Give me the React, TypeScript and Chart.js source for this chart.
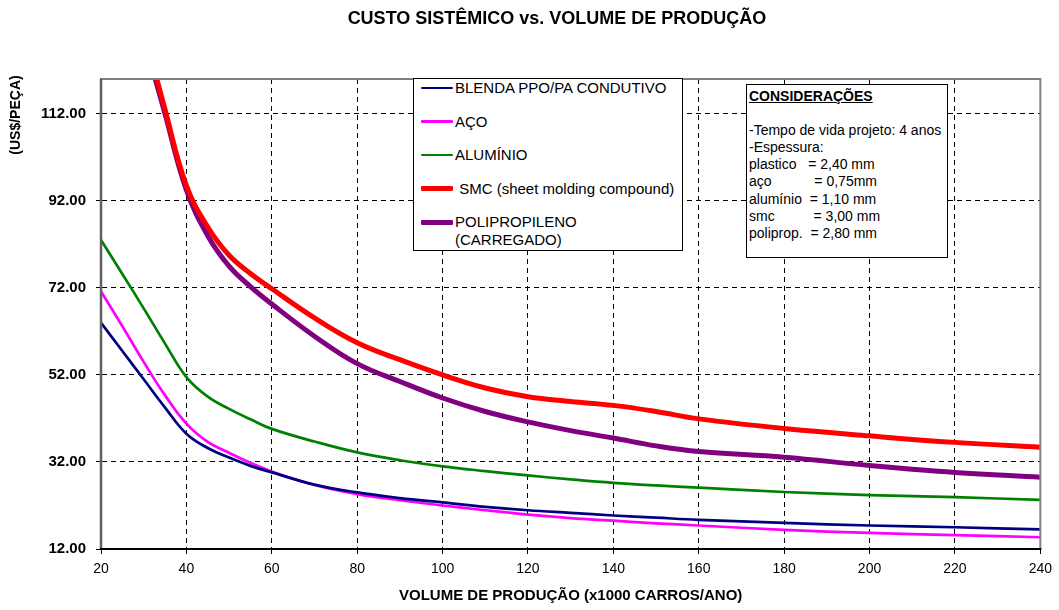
import React, { useEffect, useRef } from "react";
import { Chart, registerables } from "chart.js";

Chart.register(...registerables);

// ---- data ----
const volumes = [20, 25, 30, 35, 40, 45, 50, 55, 60, 70, 80, 90, 100, 110, 120, 130, 140, 150, 160, 180, 200, 220, 240];
const blenda = [64.0, 57.5, 51.0, 44.5, 38.5, 35.2, 33.0, 31.1, 29.6, 26.8, 25.0, 23.7, 22.7, 21.7, 20.9, 20.3, 19.7, 19.2, 18.7, 18.0, 17.4, 17.0, 16.5];
const aco = [71.2, 63.2, 55.0, 47.3, 40.8, 36.6, 34.1, 31.8, 29.8, 26.7, 24.6, 23.2, 22.0, 20.9, 19.9, 19.1, 18.5, 17.9, 17.4, 16.4, 15.7, 15.2, 14.7];
const aluminio = [83.0, 75.2, 67.3, 59.2, 51.5, 47.0, 44.2, 41.8, 39.6, 36.7, 34.2, 32.4, 31.0, 29.9, 28.9, 28.0, 27.2, 26.6, 26.1, 25.1, 24.4, 23.9, 23.3];
const smc = [185, 155, 132, 113, 95.5, 86.0, 79.5, 75.3, 71.8, 65.1, 59.4, 55.5, 52.0, 49.0, 47.0, 45.9, 45.0, 43.6, 41.9, 39.7, 38.0, 36.5, 35.4];
const polipropileno = [180, 152, 130, 112, 94.5, 84.0, 77.0, 72.3, 68.3, 60.9, 54.6, 50.5, 46.7, 43.6, 41.2, 39.2, 37.5, 35.7, 34.4, 33.1, 31.2, 29.6, 28.5];

const seriesLabels = ["BLENDA PPO/PA CONDUTIVO", "AÇO", "ALUMÍNIO", " SMC (sheet molding compound)", "POLIPROPILENO\n(CARREGADO)"];
const seriesValues = [blenda, aco, aluminio, smc, polipropileno];
const seriesColors = ["#000080", "#FF00FF", "#008000", "#FF0000", "#800080"];
const seriesWidths = [2.7, 2.7, 2.7, 5, 5];

const xTicks = [20, 40, 60, 80, 100, 120, 140, 160, 180, 200, 220, 240];
const yTicks = [12, 32, 52, 72, 92, 112];

const titleText = "CUSTO SISTÊMICO vs. VOLUME DE PRODUÇÃO";
const xTitle = "VOLUME DE PRODUÇÃO (x1000 CARROS/ANO)";
const yTitle = "(US$/PEÇA)";
const notesTitle = "CONSIDERAÇÕES";
const notesLines = [
  "",
  "-Tempo de vida projeto: 4 anos",
  "-Espessura:",
  "plastico   = 2,40 mm",
  "aço           = 0,75mm",
  "alumínio  = 1,10 mm",
  "smc          = 3,00 mm",
  "poliprop.  = 2,80 mm",
];

const FONT = "'Liberation Sans', Arial, Helvetica, sans-serif";

const frame = {
  id: "frame",
  afterDatasetsDraw(chart: any) {
    const { ctx, chartArea } = chart;
    ctx.save();
    ctx.setLineDash([]);
    ctx.strokeStyle = "#808080";
    ctx.lineWidth = 2;
    ctx.beginPath();
    ctx.moveTo(chartArea.left, chartArea.top);
    ctx.lineTo(chartArea.right, chartArea.top);
    ctx.lineTo(chartArea.right, chartArea.bottom);
    ctx.stroke();
    ctx.strokeStyle = "#606060";
    ctx.lineWidth = 2.5;
    ctx.beginPath();
    ctx.moveTo(chartArea.left, chartArea.top);
    ctx.lineTo(chartArea.left, chartArea.bottom);
    ctx.stroke();
    ctx.strokeStyle = "#000000";
    ctx.lineWidth = 2;
    ctx.beginPath();
    ctx.moveTo(chartArea.left - 1, chartArea.bottom);
    ctx.lineTo(chartArea.right + 1, chartArea.bottom);
    ctx.stroke();
    ctx.restore();
  },
};

export default function App() {
  const ref = useRef<HTMLCanvasElement | null>(null);

  useEffect(() => {
    if (!ref.current) return;
    const chart = new Chart(ref.current, {
      type: "line",
      data: {
        datasets: seriesValues.map((vals, i) => ({
          label: seriesLabels[i],
          data: volumes.map((v, j) => ({ x: v, y: vals[j] })),
          borderColor: seriesColors[i],
          backgroundColor: seriesColors[i],
          borderWidth: seriesWidths[i],
          pointRadius: 0,
          tension: 0.4,
          cubicInterpolationMode: "default" as const,
          fill: false,
        })),
      },
      options: {
        animation: false,
        responsive: false,
        layout: { padding: { left: 0, right: 16, top: 79, bottom: 0 } },
        plugins: {
          legend: { display: false },
          title: { display: false },
          tooltip: { enabled: false },
        },
        scales: {
          x: {
            type: "linear",
            min: 20,
            max: 240,
            afterBuildTicks: (s: any) => {
              s.ticks = xTicks.map((v) => ({ value: v }));
            },
            afterFit: (s: any) => {
              s.height = 61;
            },
            ticks: {
              color: "#000",
              font: { family: FONT, size: 14 },
              padding: 7,
              maxRotation: 0,
              autoSkip: false,
            },
            grid: {
              color: "#000",
              lineWidth: 1,
              drawTicks: true,
              tickLength: 5,
              tickBorderDash: [],
              tickColor: "#000",
              tickWidth: 1,
            } as any,
            border: { display: true, color: "#000", width: 2, dash: [5, 4] } as any,
            title: {
              display: true,
              text: xTitle,
              color: "#000",
              font: { family: FONT, size: 15, weight: "bold" },
              padding: { top: 2, bottom: 5 },
            },
          },
          y: {
            type: "linear",
            min: 12,
            max: 120,
            afterBuildTicks: (s: any) => {
              s.ticks = yTicks.map((v) => ({ value: v }));
            },
            afterFit: (s: any) => {
              s.width = 101;
            },
            ticks: {
              color: "#000",
              font: { family: FONT, size: 15, weight: "bold" },
              padding: 10,
              callback: (v: any) => Number(v).toFixed(2),
            },
            grid: {
              color: "#000",
              lineWidth: 1,
              drawTicks: true,
              tickLength: 5,
              tickBorderDash: [],
              tickColor: "#000",
              tickWidth: 1,
            } as any,
            border: { display: true, color: "#606060", width: 2, dash: [5, 4] } as any,
          },
        },
      },
      plugins: [frame],
    });
    return () => chart.destroy();
  }, []);

  const legendTop = 78;
  const rowYs = [88, 121.5, 155, 188.5, 222];

  return (
    <div style={{ position: "fixed", left: 0, top: 0, width: 1059, height: 610, background: "#fff", fontFamily: FONT }}>
      <canvas ref={ref} width={1059} height={610} style={{ position: "absolute", left: 0, top: 0 }} />
      <div
        style={{
          position: "absolute",
          left: 0,
          top: 8,
          width: 1114,
          textAlign: "center",
          fontWeight: "bold",
          fontSize: 18,
          lineHeight: "21px",
          color: "#000",
        }}
      >
        {titleText}
      </div>
      <div
        style={{
          position: "absolute",
          left: 15 - 60,
          top: 115 - 9,
          width: 120,
          height: 18,
          lineHeight: "18px",
          textAlign: "center",
          fontWeight: "bold",
          fontSize: 14,
          transform: "rotate(-90deg)",
          color: "#000",
        }}
      >
        {yTitle}
      </div>
      <div
        style={{
          position: "absolute",
          left: 413,
          top: legendTop,
          width: 270,
          height: 173,
          boxSizing: "border-box",
          border: "1px solid #000",
          background: "#fff",
        }}
      >
        {seriesLabels.map((lab, i) => {
          const cy = rowYs[i] - legendTop - 1;
          const lines = lab.split("\n");
          return (
            <React.Fragment key={i}>
              <div
                style={{
                  position: "absolute",
                  left: 7,
                  top: cy - seriesWidths[i] / 2,
                  width: 32,
                  height: seriesWidths[i],
                  background: seriesColors[i],
                  borderRadius: 1,
                }}
              />
              {lines.map((ln, k) => (
                <div
                  key={k}
                  style={{
                    position: "absolute",
                    left: 41,
                    top: cy - 9 + k * 18,
                    height: 18,
                    lineHeight: "18px",
                    fontSize: 15,
                    whiteSpace: "pre",
                    color: "#000",
                  }}
                >
                  {ln}
                </div>
              ))}
            </React.Fragment>
          );
        })}
      </div>
      <div
        style={{
          position: "absolute",
          left: 746,
          top: 84,
          width: 202,
          height: 174,
          boxSizing: "border-box",
          border: "1px solid #000",
          background: "#fff",
          padding: "3px 0 0 2px",
          fontSize: 14,
          lineHeight: "17.1px",
          color: "#000",
        }}
      >
        <div style={{ fontWeight: "bold", textDecoration: "underline" }}>{notesTitle}</div>
        {notesLines.map((ln, i) => (
          <div key={i} style={{ whiteSpace: "pre", height: 17.1 }}>
            {ln}
          </div>
        ))}
      </div>
    </div>
  );
}
